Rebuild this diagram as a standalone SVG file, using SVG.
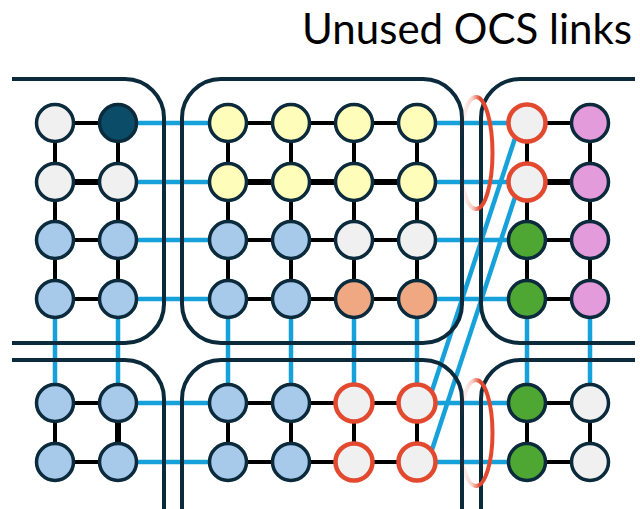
<svg xmlns="http://www.w3.org/2000/svg" width="640" height="509" viewBox="0 0 640 509">
<style>
.box{fill:none;stroke:#0b2a3c;stroke-width:4}
.lk{stroke:#000;stroke-width:4}
.lkt{stroke:#000;stroke-width:6}
.bl{stroke:#17a1db;stroke-width:4.5}
.n{stroke:#0b2a3c;stroke-width:3.5}
.r{stroke:#e2492f;stroke-width:4.5}
.g{fill:#f0f0f0}.t{fill:#0b4d68}.b{fill:#a7c9ea}.y{fill:#fffdb9}.s{fill:#efa882}.gr{fill:#4fa733}.p{fill:#e39bdb}
.arc{fill:none;stroke:url(#fade);stroke-width:4}
text{font-family:Lato,"Open Sans","Liberation Sans",sans-serif;fill:#000}
</style>
<defs>
<linearGradient id="fade" x1="0" y1="0" x2="1" y2="0">
<stop offset="0" stop-color="#e2492f" stop-opacity="0"/>
<stop offset="0.38" stop-color="#e2492f" stop-opacity="0.25"/>
<stop offset="0.62" stop-color="#e2492f" stop-opacity="1"/>
<stop offset="1" stop-color="#e2492f" stop-opacity="1"/>
</linearGradient>
</defs>
<text x="632" y="44" font-size="42" text-anchor="end">Unused OCS links</text>
<g id="connectors">
<g id="ocs-links">
<line class="bl" x1="118" y1="123" x2="228" y2="123"/>
<line class="bl" x1="118" y1="182" x2="228" y2="182"/>
<line class="bl" x1="118" y1="240" x2="228" y2="240"/>
<line class="bl" x1="118" y1="299" x2="228" y2="299"/>
<line class="bl" x1="118" y1="403" x2="228" y2="403"/>
<line class="bl" x1="118" y1="462" x2="228" y2="462"/>
<line class="bl" x1="417" y1="123" x2="527" y2="123"/>
<line class="bl" x1="417" y1="182" x2="527" y2="182"/>
<line class="bl" x1="417" y1="240" x2="527" y2="240"/>
<line class="bl" x1="417" y1="299" x2="527" y2="299"/>
<line class="bl" x1="417" y1="403" x2="527" y2="403"/>
<line class="bl" x1="417" y1="462" x2="527" y2="462"/>
<line class="bl" x1="55" y1="299" x2="55" y2="403"/>
<line class="bl" x1="118" y1="299" x2="118" y2="403"/>
<line class="bl" x1="228" y1="299" x2="228" y2="403"/>
<line class="bl" x1="291" y1="299" x2="291" y2="403"/>
<line class="bl" x1="354" y1="299" x2="354" y2="403"/>
<line class="bl" x1="417" y1="299" x2="417" y2="403"/>
<line class="bl" x1="527" y1="299" x2="527" y2="403"/>
<line class="bl" x1="590" y1="299" x2="590" y2="403"/>
<line class="bl" x1="520" y1="123" x2="428" y2="403"/>
<line class="bl" x1="520" y1="182" x2="428" y2="462"/>
</g>
<g id="boxes">
<path class="box" d="M12,79 H125 A39,39 0 0 1 164,118 V304 A39,39 0 0 1 125,343 H12"/>
<path class="box" d="M12,360 H125 A39,39 0 0 1 164,399 V509"/>
<rect class="box" x="182" y="79" width="280" height="264" rx="39"/>
<path class="box" d="M182,509 V399 A39,39 0 0 1 221,360 H423 A39,39 0 0 1 462,399 V509"/>
<path class="box" d="M635,79 H520 A39,39 0 0 0 481,118 V304 A39,39 0 0 0 520,343 H635"/>
<path class="box" d="M635,360 H520 A39,39 0 0 0 481,399 V509"/>
</g>
<g id="ici-links">
<line class="lk" x1="55" y1="123" x2="118" y2="123"/>
<line class="lkt" x1="55" y1="182" x2="118" y2="182"/>
<line class="lk" x1="55" y1="240" x2="118" y2="240"/>
<line class="lk" x1="55" y1="299" x2="118" y2="299"/>
<line class="lk" x1="55" y1="123" x2="55" y2="299"/>
<line class="lk" x1="118" y1="123" x2="118" y2="299"/>
<line class="lk" x1="228" y1="123" x2="417" y2="123"/>
<line class="lkt" x1="228" y1="182" x2="417" y2="182"/>
<line class="lk" x1="228" y1="240" x2="417" y2="240"/>
<line class="lk" x1="228" y1="299" x2="417" y2="299"/>
<line class="lk" x1="228" y1="123" x2="228" y2="299"/>
<line class="lk" x1="291" y1="123" x2="291" y2="299"/>
<line class="lk" x1="354" y1="123" x2="354" y2="299"/>
<line class="lk" x1="417" y1="123" x2="417" y2="299"/>
<line class="lk" x1="527" y1="123" x2="590" y2="123"/>
<line class="lkt" x1="527" y1="182" x2="590" y2="182"/>
<line class="lk" x1="527" y1="240" x2="590" y2="240"/>
<line class="lk" x1="527" y1="299" x2="590" y2="299"/>
<line class="lk" x1="527" y1="123" x2="527" y2="299"/>
<line class="lk" x1="590" y1="123" x2="590" y2="299"/>
<line class="lk" x1="55" y1="403" x2="118" y2="403"/>
<line class="lk" x1="55" y1="462" x2="118" y2="462"/>
<line class="lk" x1="55" y1="403" x2="55" y2="462"/>
<line class="lkt" x1="118" y1="403" x2="118" y2="462"/>
<line class="lk" x1="228" y1="403" x2="417" y2="403"/>
<line class="lk" x1="228" y1="462" x2="417" y2="462"/>
<line class="lk" x1="228" y1="403" x2="228" y2="462"/>
<line class="lk" x1="291" y1="403" x2="291" y2="462"/>
<line class="lk" x1="354" y1="403" x2="354" y2="462"/>
<line class="lk" x1="417" y1="403" x2="417" y2="462"/>
<line class="lk" x1="527" y1="403" x2="590" y2="403"/>
<line class="lk" x1="527" y1="462" x2="590" y2="462"/>
<line class="lk" x1="527" y1="403" x2="527" y2="462"/>
<line class="lk" x1="590" y1="403" x2="590" y2="462"/>
</g>
<g id="unused">
<ellipse class="arc" cx="476" cy="153" rx="16.5" ry="56"/>
<ellipse class="arc" cx="476" cy="433" rx="16.5" ry="53"/>
</g>
</g>
<g id="nodes">
<g id="n-tl"><circle class="n g" cx="55" cy="123" r="18.5"/><circle class="n t" cx="118" cy="123" r="18.5"/><circle class="n g" cx="55" cy="182" r="18.5"/><circle class="n g" cx="118" cy="182" r="18.5"/><circle class="n b" cx="55" cy="240" r="18.5"/><circle class="n b" cx="118" cy="240" r="18.5"/><circle class="n b" cx="55" cy="299" r="18.5"/><circle class="n b" cx="118" cy="299" r="18.5"/></g>
<g id="n-tm"><circle class="n y" cx="228" cy="123" r="18.5"/><circle class="n y" cx="291" cy="123" r="18.5"/><circle class="n y" cx="354" cy="123" r="18.5"/><circle class="n y" cx="417" cy="123" r="18.5"/><circle class="n y" cx="228" cy="182" r="18.5"/><circle class="n y" cx="291" cy="182" r="18.5"/><circle class="n y" cx="354" cy="182" r="18.5"/><circle class="n y" cx="417" cy="182" r="18.5"/><circle class="n b" cx="228" cy="240" r="18.5"/><circle class="n b" cx="291" cy="240" r="18.5"/><circle class="n g" cx="354" cy="240" r="18.5"/><circle class="n g" cx="417" cy="240" r="18.5"/><circle class="n b" cx="228" cy="299" r="18.5"/><circle class="n b" cx="291" cy="299" r="18.5"/><circle class="n s" cx="354" cy="299" r="18.5"/><circle class="n s" cx="417" cy="299" r="18.5"/></g>
<g id="n-tr"><circle class="r g" cx="527" cy="123" r="18.5"/><circle class="n p" cx="590" cy="123" r="18.5"/><circle class="r g" cx="527" cy="182" r="18.5"/><circle class="n p" cx="590" cy="182" r="18.5"/><circle class="n gr" cx="527" cy="240" r="18.5"/><circle class="n p" cx="590" cy="240" r="18.5"/><circle class="n gr" cx="527" cy="299" r="18.5"/><circle class="n p" cx="590" cy="299" r="18.5"/></g>
<g id="n-bl"><circle class="n b" cx="55" cy="403" r="18.5"/><circle class="n b" cx="118" cy="403" r="18.5"/><circle class="n b" cx="55" cy="462" r="18.5"/><circle class="n b" cx="118" cy="462" r="18.5"/></g>
<g id="n-bm"><circle class="n b" cx="228" cy="403" r="18.5"/><circle class="n b" cx="291" cy="403" r="18.5"/><circle class="r g" cx="354" cy="403" r="18.5"/><circle class="r g" cx="417" cy="403" r="18.5"/><circle class="n b" cx="228" cy="462" r="18.5"/><circle class="n b" cx="291" cy="462" r="18.5"/><circle class="r g" cx="354" cy="462" r="18.5"/><circle class="r g" cx="417" cy="462" r="18.5"/></g>
<g id="n-br"><circle class="n gr" cx="527" cy="403" r="18.5"/><circle class="n g" cx="590" cy="403" r="18.5"/><circle class="n gr" cx="527" cy="462" r="18.5"/><circle class="n g" cx="590" cy="462" r="18.5"/></g>
</g>
</svg>
